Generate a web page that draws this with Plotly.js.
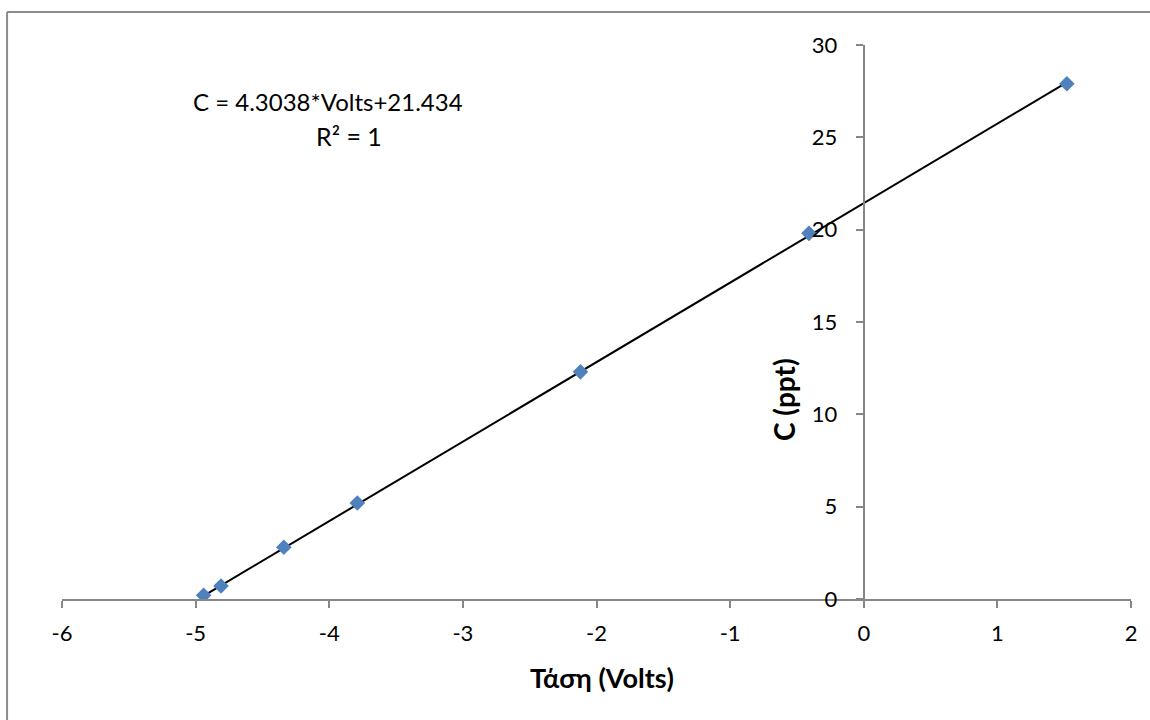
<!DOCTYPE html>
<html><head><meta charset="utf-8">
<script src="https://cdn.plot.ly/plotly-3.0.1.min.js"></script>
<style>body{margin:0;background:#fff}#chart{width:1150px;height:720px}</style>
</head><body><div id="chart"></div>
<script>
const volts = [-4.94, -4.81, -4.34, -3.79, -2.12, -0.41, 1.52];
const conc = [0.2, 0.7, 2.8, 5.2, 12.3, 19.8, 27.9];
const slope = 4.3038, intercept = 21.434;
const xTickVals = [-6, -5, -4, -3, -2, -1, 0, 1, 2];
const xTickText = ['-6', '-5', '-4', '-3', '-2', '-1', '0', '1', '2'];
const xTitle = 'Τάση (Volts)';
const yTitle = 'C (ppt)';
const eqText = 'C = 4.3038*Volts+21.434';
const r2Text = 'R² = 1';

const xmin = Math.min(...volts), xmax = Math.max(...volts);
const trend = {x:[xmin,xmax], y:[slope*xmin+intercept, slope*xmax+intercept], mode:'lines',
  line:{color:'#000', width:2}, hoverinfo:'skip', showlegend:false};
const pts = {x:volts, y:conc, mode:'markers', type:'scatter',
  marker:{symbol:'diamond', size:12, color:'#4F81BD'}, showlegend:false};

const fam = 'Lato, "Open Sans", sans-serif';
const font = {family:fam, size:22, color:'#000'};
const layout = {
  width:1150, height:720,
  margin:{l:62, r:19, t:45, b:121},
  paper_bgcolor:'#fff', plot_bgcolor:'rgba(0,0,0,0)',
  font: font,
  xaxis:{range:[-6,2], tickvals:xTickVals, ticktext:xTickText, showgrid:false, zeroline:false, showline:true,
    linecolor:'#868686', linewidth:2, ticks:'outside', ticklen:7, tickcolor:'#868686', tickwidth:2,
    ticklabelstandoff:7, tickfont:font, fixedrange:true},
  yaxis:{range:[0,30], dtick:5, showgrid:false, zeroline:false, showline:true,
    linecolor:'#868686', linewidth:2, ticks:'outside', ticklen:7, tickcolor:'#868686', tickwidth:2,
    ticklabelstandoff:14, anchor:'free', position:0.75, tickfont:font, fixedrange:true},
  shapes:[
    {type:'line', xref:'paper', yref:'paper', x0:-0.0514, x1:-0.0514, y0:1.0596, y1:-0.3, line:{color:'#8c8c8c', width:2}},
    {type:'line', xref:'paper', yref:'paper', x0:-0.0514, x1:1.05, y0:1.0596, y1:1.0596, line:{color:'#8c8c8c', width:2}}
  ],
  annotations:[
    {text:'<b>'+xTitle+'</b>', xref:'paper', yref:'paper', x:(602-62)/1069, y:(599-677)/554, showarrow:false,
      xanchor:'center', yanchor:'middle', font:{family:fam, size:27, color:'#000'}},
    {text:'<b>'+yTitle+'</b>', xref:'paper', yref:'paper', x:(784-62)/1069, y:(599-400)/554, showarrow:false,
      xanchor:'center', yanchor:'middle', textangle:-90, font:{family:fam, size:28, color:'#000'}},
    {text:eqText, xref:'paper', yref:'paper', x:(328-62)/1069, y:(599-101)/554, showarrow:false,
      xanchor:'center', yanchor:'middle', font:{family:fam, size:24, color:'#000'}},
    {text:r2Text, xref:'paper', yref:'paper', x:(349-62)/1069, y:(599-136)/554, showarrow:false,
      xanchor:'center', yanchor:'middle', font:{family:fam, size:25, color:'#000'}}
  ]
};
Plotly.newPlot('chart', [trend, pts], layout, {displayModeBar:false, staticPlot:true});
</script></body></html>
